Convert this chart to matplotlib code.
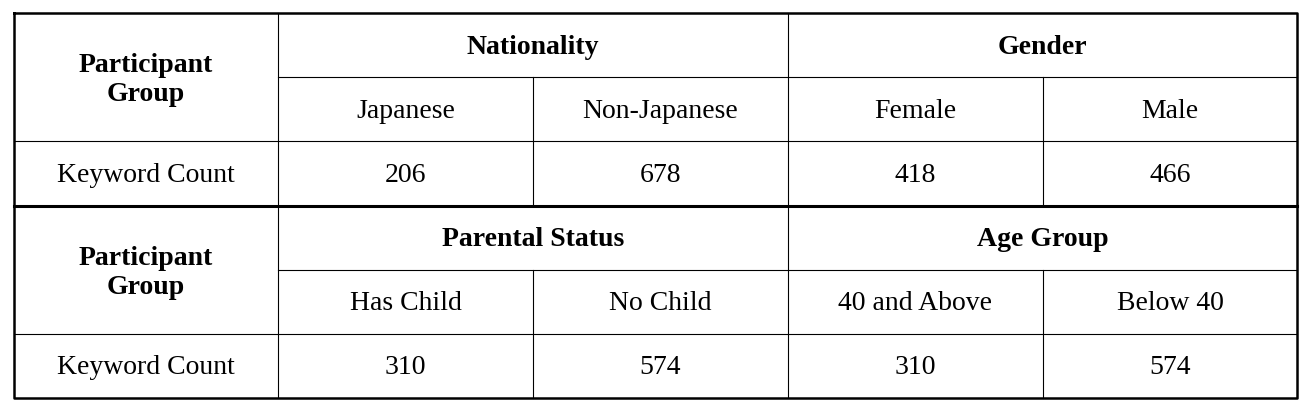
import matplotlib.pyplot as plt
from matplotlib import font_manager

# table content
groups_top = ["Nationality", "Gender"]
cats_top = ["Japanese", "Non-Japanese", "Female", "Male"]
counts_top = [206, 678, 418, 466]

groups_bottom = ["Parental Status", "Age Group"]
cats_bottom = ["Has Child", "No Child", "40 and Above", "Below 40"]
counts_bottom = [310, 574, 310, 574]

row_header = "Participant\nGroup"
row_label = "Keyword Count"

# pick a Times-like serif if one is installed
names = {f.name for f in font_manager.fontManager.ttflist}
serif = [n for n in ['Liberation Serif', 'Times New Roman', 'Nimbus Roman', 'TeX Gyre Termes'] if n in names]
plt.rcParams['font.family'] = serif + ['DejaVu Serif']
print(serif)

fig = plt.figure(figsize=(13.08, 4.10), dpi=100)
ax = fig.add_axes([0, 0, 1, 1])
ax.set_xlim(0, 1308)
ax.set_ylim(410, 0)
ax.axis('off')

xs = [14, 278, 533, 788, 1043, 1297]
ys = [14, 78, 142, 207, 271, 335, 399]
fs = 20
c = 'black'

def block(y0, groups, cats, counts):
    y1, y2, y3 = ys[y0 + 1], ys[y0 + 2], ys[y0 + 3]
    ytop = ys[y0]
    ax.text((xs[0] + xs[1]) / 2, (ytop + y2) / 2 + 2, row_header, ha='center', va='center',
            fontsize=fs, fontweight='bold', linespacing=1.25)
    for i, g in enumerate(groups):
        ax.text((xs[1 + 2 * i] + xs[3 + 2 * i]) / 2, (ytop + y1) / 2 + 1, g, ha='center', va='center',
                fontsize=fs, fontweight='bold')
    for i, cat in enumerate(cats):
        ax.text((xs[1 + i] + xs[2 + i]) / 2, (y1 + y2) / 2 + 1, cat, ha='center', va='center', fontsize=fs)
        ax.text((xs[1 + i] + xs[2 + i]) / 2, (y2 + y3) / 2 + 1, str(counts[i]), ha='center', va='center', fontsize=fs)
    ax.text((xs[0] + xs[1]) / 2, (y2 + y3) / 2 + 1, row_label, ha='center', va='center', fontsize=fs)
    # inner lines
    ax.plot([xs[1], xs[5]], [y1, y1], color=c, lw=0.8)
    ax.plot([xs[0], xs[5]], [y2, y2], color=c, lw=0.8)
    ax.plot([xs[1], xs[1]], [ytop, y3], color=c, lw=0.8)
    ax.plot([xs[3], xs[3]], [ytop, y3], color=c, lw=0.8)
    for x in (xs[2], xs[4]):
        ax.plot([x, x], [y1, y3], color=c, lw=0.8)

block(0, groups_top, cats_top, counts_top)
block(3, groups_bottom, cats_bottom, counts_bottom)

ax.plot([xs[0], xs[5]], [ys[3], ys[3]], color=c, lw=2.2)
ax.plot([xs[0], xs[5], xs[5], xs[0], xs[0]], [ys[0], ys[0], ys[6], ys[6], ys[0]], color=c, lw=1.8)

fig.savefig('out.png', dpi=100)
